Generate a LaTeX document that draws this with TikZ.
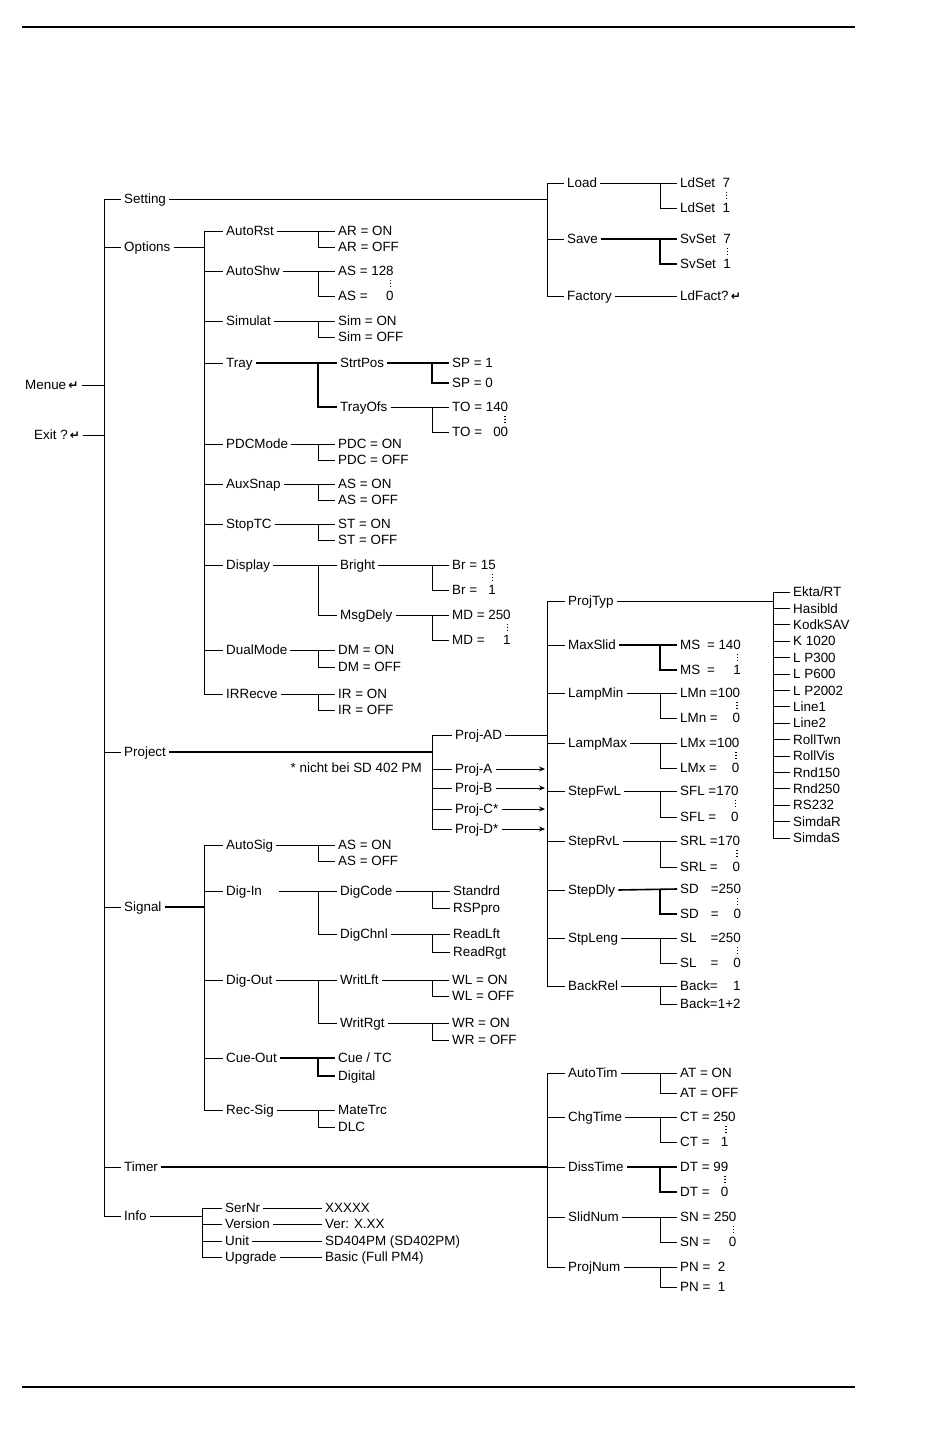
\documentclass[tikz,border=0pt]{standalone}
\usepackage{fontspec}
\setmainfont{Liberation Sans}
\newfontfamily\dejavu{DejaVu Sans}
\usetikzlibrary{arrows.meta}
\newcommand\ret{\,{\dejavu\bfseries\fontsize{12}{12}\selectfont ↵}}
\newcommand\phn[1]{\hphantom{#1}}
\tikzset{
 t/.style={anchor=west, inner sep=3pt, xshift=-3pt, text height=9.5pt, text depth=0pt, font=\fontsize{13.4}{15}\selectfont},
 ln/.style={line width=0.9pt, line cap=butt},
 thk/.style={line width=1.6pt},
 dotln/.style={line width=1.3pt, dash pattern=on 1.2pt off 1.8pt, shorten <=1pt, shorten >=2pt},
 rule/.style={line width=1.8pt}
}
% parent -> bus
\newcommand\tup[3][]{\draw[ln,#1] (#2.east) -- (#2.east -| #3);}
% bus -> each child
\newcommand\kids[3][]{\foreach \k in {#3}{\draw[ln,#1] (\k.west -| #2) -- (\k.west);}}
% vertical bus between first and last child
\newcommand\vbus[4][]{\draw[ln,#1] (#3.west -| #2) -- (#4.west -| #2);}
% parent with two children, first on same line
\newcommand\two[5][]{\draw[ln,#1] (#3.east) -- (#4.west); \draw[ln,#1] (#4.west -| #2) |- (#5.west);}
% dotted continuation between two values
\newcommand\dts[2]{\draw[dotln] ([xshift=-6.5pt]#1.south east) -- ([xshift=-6.5pt]#1.south east |- #2.north east);}
\begin{document}
\begin{tikzpicture}[x=1pt,y=-1pt]
\useasboundingbox (0,0) rectangle (950,1429);
\fill[white] (0,0) rectangle (950,1429);
\draw[rule] (22,27) -- (855,27);
\draw[rule] (22,1387) -- (855,1387);

\coordinate (b104) at (104,0);
\coordinate (b202) at (202,0);
\coordinate (b204) at (204,0);
\coordinate (b318) at (318,0);
\coordinate (b432) at (432,0);
\coordinate (b547) at (547,0);
\coordinate (b660) at (660,0);
\coordinate (b773) at (773,0);

% ---- root
\node[t] (menue) at (25,385) {Menue\ret};
\node[t] (exit) at (34,435) {Exit ?\ret};
\node[t] (setting) at (124,199) {Setting};
\node[t] (options) at (124,247) {Options};
\node[t] (project) at (124,752) {Project};
\node[t] (signal) at (124,907) {Signal};
\node[t] (timer) at (124,1167) {Timer};
\node[t] (info) at (124,1216) {Info};
\tup{menue}{b104}
\tup{exit}{b104}
\vbus{b104}{setting}{info}
\kids{b104}{setting,options,project,signal,timer,info}

% ---- Setting
\node[t] (load) at (567,183) {Load};
\node[t] (save) at (567,239) {Save};
\node[t] (factory) at (567,296) {Factory};
\tup{setting}{b547}
\vbus{b547}{load}{factory}
\kids{b547}{load,save,factory}
\node[t] (ld7) at (680,183) {LdSet\ \ 7};
\node[t] (ld1) at (680,208) {LdSet\ \ 1};
\two{b660}{load}{ld7}{ld1}
\dts{ld7}{ld1}
\node[t] (sv7) at (680,239) {SvSet\ \ 7};
\node[t] (sv1) at (680,264) {SvSet\ \ 1};
\two[thk]{b660}{save}{sv7}{sv1}
\dts{sv7}{sv1}
\node[t] (ldf) at (680,296) {LdFact?\ret};
\draw[ln] (factory.east) -- (ldf.west);

% ---- Options
\node[t] (autorst) at (226,231) {AutoRst};
\node[t] (autoshw) at (226,271) {AutoShw};
\node[t] (simulat) at (226,321) {Simulat};
\node[t] (tray) at (226,363) {Tray};
\node[t] (pdcmode) at (226,444) {PDCMode};
\node[t] (auxsnap) at (226,484) {AuxSnap};
\node[t] (stoptc) at (226,524) {StopTC};
\node[t] (display) at (226,565) {Display};
\node[t] (dualmode) at (226,650) {DualMode};
\node[t] (irrecve) at (226,694) {IRRecve};
\tup{options}{b204}
\vbus{b204}{autorst}{irrecve}
\kids{b204}{autorst,autoshw,simulat,tray,pdcmode,auxsnap,stoptc,display,dualmode,irrecve}

\node[t] (aron) at (338,231) {AR = ON};
\node[t] (aroff) at (338,247) {AR = OFF};
\two{b318}{autorst}{aron}{aroff}
\node[t] (as128) at (338,271) {AS = 128};
\node[t] (as0) at (338,296) {AS = \phn{12}0};
\two{b318}{autoshw}{as128}{as0}
\dts{as128}{as0}
\node[t] (simon) at (338,321) {Sim = ON};
\node[t] (simoff) at (338,337) {Sim = OFF};
\two{b318}{simulat}{simon}{simoff}
\node[t] (strtpos) at (340,363) {StrtPos};
\node[t] (trayofs) at (340,407) {TrayOfs};
\two[thk]{b318}{tray}{strtpos}{trayofs}
\node[t] (sp1) at (452,363) {SP = 1};
\node[t] (sp0) at (452,383) {SP = 0};
\two[thk]{b432}{strtpos}{sp1}{sp0}
\node[t] (to140) at (452,407) {TO = 140};
\node[t] (to00) at (452,432) {TO = \phn{1}00};
\two{b432}{trayofs}{to140}{to00}
\dts{to140}{to00}
\node[t] (pdcon) at (338,444) {PDC = ON};
\node[t] (pdcoff) at (338,460) {PDC = OFF};
\two{b318}{pdcmode}{pdcon}{pdcoff}
\node[t] (axon) at (338,484) {AS = ON};
\node[t] (axoff) at (338,500) {AS = OFF};
\two{b318}{auxsnap}{axon}{axoff}
\node[t] (ston) at (338,524) {ST = ON};
\node[t] (stoff) at (338,540) {ST = OFF};
\two{b318}{stoptc}{ston}{stoff}
\node[t] (bright) at (340,565) {Bright};
\node[t] (msgdely) at (340,615) {MsgDely};
\two{b318}{display}{bright}{msgdely}
\node[t] (br15) at (452,565) {Br = 15};
\node[t] (br1) at (452,590) {Br = \phn{1}1};
\two{b432}{bright}{br15}{br1}
\dts{br15}{br1}
\node[t] (md250) at (452,615) {MD = 250};
\node[t] (md1) at (452,640) {MD = \phn{25}1};
\two{b432}{msgdely}{md250}{md1}
\dts{md250}{md1}
\node[t] (dmon) at (338,650) {DM = ON};
\node[t] (dmoff) at (338,667) {DM = OFF};
\two{b318}{dualmode}{dmon}{dmoff}
\node[t] (iron) at (338,694) {IR = ON};
\node[t] (iroff) at (338,710) {IR = OFF};
\two{b318}{irrecve}{iron}{iroff}

% ---- Project
\node[t] (projad) at (455,735) {Proj-AD};
\node[t] (proja) at (455,769) {Proj-A};
\node[t] (projb) at (455,788) {Proj-B};
\node[t] (projc) at (455,809) {Proj-C*};
\node[t] (projd) at (455,829) {Proj-D*};
\node[t,anchor=east,xshift=0pt] (note) at (428,768) {* nicht bei SD 402 PM};
\tup[thk]{project}{b432}
\vbus{b432}{projad}{projd}
\kids{b432}{projad,proja,projb,projc,projd}
\tup{projad}{b547}
\foreach \k in {proja,projb,projc,projd}{\draw[ln,-{Stealth[length=6pt,width=5pt]}] (\k.east) -- ([xshift=-2pt]\k.east -| b547);}

\node[t] (projtyp) at (568,601) {ProjTyp};
\node[t] (maxslid) at (568,645) {MaxSlid};
\node[t] (lampmin) at (568,693) {LampMin};
\node[t] (lampmax) at (568,743) {LampMax};
\node[t] (stepfwl) at (568,791) {StepFwL};
\node[t] (steprvl) at (568,841) {StepRvL};
\node[t] (stepdly) at (568,890) {StepDly};
\node[t] (stpleng) at (568,938) {StpLeng};
\node[t] (backrel) at (568,986) {BackRel};
\vbus{b547}{projtyp}{backrel}
\kids{b547}{projtyp,maxslid,lampmin,lampmax,stepfwl,steprvl,stepdly,stpleng,backrel}

\foreach \s [count=\i] in {{Ekta/RT},Hasibld,KodkSAV,K 1020,L P300,L P600,L P2002,Line1,Line2,RollTwn,RollVis,Rnd150,Rnd250,RS232,SimdaR,SimdaS}
  {\node[t] (pt\i) at (793,{592+(\i-1)*16.4}) {\s};}
\tup{projtyp}{b773}
\vbus{b773}{pt1}{pt16}
\kids{b773}{pt1,pt2,pt3,pt4,pt5,pt6,pt7,pt8,pt9,pt10,pt11,pt12,pt13,pt14,pt15,pt16}

\node[t] (ms140) at (680,645) {MS\enspace = 140};
\node[t] (ms1) at (680,670) {MS\enspace = \phn{14}1};
\two[thk]{b660}{maxslid}{ms140}{ms1}
\dts{ms140}{ms1}
\node[t] (lmn100) at (680,693) {LMn =100};
\node[t] (lmn0) at (680,718) {LMn =\phn{10}0};
\two{b660}{lampmin}{lmn100}{lmn0}
\dts{lmn100}{lmn0}
\node[t] (lmx100) at (680,743) {LMx =100};
\node[t] (lmx0) at (680,768) {LMx =\phn{10}0};
\two{b660}{lampmax}{lmx100}{lmx0}
\dts{lmx100}{lmx0}
\node[t] (sfl170) at (680,791) {SFL =170};
\node[t] (sfl0) at (680,817) {SFL =\phn{17}0};
\two{b660}{stepfwl}{sfl170}{sfl0}
\dts{sfl170}{sfl0}
\node[t] (srl170) at (680,841) {SRL =170};
\node[t] (srl0) at (680,867) {SRL =\phn{17}0};
\two{b660}{steprvl}{srl170}{srl0}
\dts{srl170}{srl0}
\node[t] (sd250) at (680,889) {SD\hspace{0.9em}=250};
\node[t] (sd0) at (680,914) {SD\hspace{0.9em}=\phn{25}0};
\two[thk]{b660}{stepdly}{sd250}{sd0}
\dts{sd250}{sd0}
\node[t] (sl250) at (680,938) {SL\hspace{1.05em}=250};
\node[t] (sl0) at (680,963) {SL\hspace{1.05em}=\phn{25}0};
\two{b660}{stpleng}{sl250}{sl0}
\dts{sl250}{sl0}
\node[t] (back1) at (680,986) {Back=\phn{1+}1};
\node[t] (back12) at (680,1004) {Back=1+2};
\two{b660}{backrel}{back1}{back12}

% ---- Signal
\node[t] (autosig) at (226,845) {AutoSig};
\node[t] (digin) at (226,891) {Dig-In};
\node[t] (digout) at (226,980) {Dig-Out};
\node[t] (cueout) at (226,1058) {Cue-Out};
\node[t] (recsig) at (226,1110) {Rec-Sig};
\tup[thk]{signal}{b204}
\vbus{b204}{autosig}{recsig}
\kids{b204}{autosig,digin,digout,cueout,recsig}
\node[t] (asigon) at (338,845) {AS = ON};
\node[t] (asigoff) at (338,861) {AS = OFF};
\two{b318}{autosig}{asigon}{asigoff}
\node[t] (digcode) at (340,891) {DigCode};
\node[t] (digchnl) at (340,934) {DigChnl};
\draw[ln] ([xshift=14pt]digin.east) -- (digcode.west);
\draw[ln] (digcode.west -| b318) |- (digchnl.west);
\node[t] (standrd) at (453,891) {Standrd};
\node[t] (rsppro) at (453,908) {RSPpro};
\two{b432}{digcode}{standrd}{rsppro}
\node[t] (readlft) at (453,934) {ReadLft};
\node[t] (readrgt) at (453,952) {ReadRgt};
\two{b432}{digchnl}{readlft}{readrgt}
\node[t] (writlft) at (340,980) {WritLft};
\node[t] (writrgt) at (340,1023) {WritRgt};
\two{b318}{digout}{writlft}{writrgt}
\node[t] (wlon) at (452,980) {WL = ON};
\node[t] (wloff) at (452,996) {WL = OFF};
\two{b432}{writlft}{wlon}{wloff}
\node[t] (wron) at (452,1023) {WR = ON};
\node[t] (wroff) at (452,1040) {WR = OFF};
\two{b432}{writrgt}{wron}{wroff}
\node[t] (cuetc) at (338,1058) {Cue / TC};
\node[t] (digital) at (338,1076) {Digital};
\two[thk]{b318}{cueout}{cuetc}{digital}
\node[t] (matetrc) at (338,1110) {MateTrc};
\node[t] (dlc) at (338,1127) {DLC};
\two{b318}{recsig}{matetrc}{dlc}

% ---- Timer
\node[t] (autotim) at (568,1073) {AutoTim};
\node[t] (chgtime) at (568,1117) {ChgTime};
\node[t] (disstime) at (568,1167) {DissTime};
\node[t] (slidnum) at (568,1217) {SlidNum};
\node[t] (projnum) at (568,1267) {ProjNum};
\tup[thk]{timer}{b547}
\vbus{b547}{autotim}{projnum}
\kids{b547}{autotim,chgtime,disstime,slidnum,projnum}
\node[t] (aton) at (680,1073) {AT = ON};
\node[t] (atoff) at (680,1093) {AT = OFF};
\two{b660}{autotim}{aton}{atoff}
\node[t] (ct250) at (680,1117) {CT = 250};
\node[t] (ct1) at (680,1142) {CT = \phn{2}1};
\two{b660}{chgtime}{ct250}{ct1}
\draw[dotln] ([xshift=-13pt]ct250.south east) -- ([xshift=-13pt]ct250.south east |- ct1.north east);
\node[t] (dt99) at (680,1167) {DT = 99};
\node[t] (dt0) at (680,1192) {DT = \phn{9}0};
\two[thk]{b660}{disstime}{dt99}{dt0}
\dts{dt99}{dt0}
\node[t] (sn250) at (680,1217) {SN = 250};
\node[t] (sn0) at (680,1242) {SN = \phn{25}0};
\two{b660}{slidnum}{sn250}{sn0}
\dts{sn250}{sn0}
\node[t] (pn2) at (680,1267) {PN =\ \ 2};
\node[t] (pn1) at (680,1287) {PN =\ \ 1};
\two{b660}{projnum}{pn2}{pn1}

% ---- Info
\node[t] (sernr) at (225,1208) {SerNr};
\node[t] (version) at (225,1224) {Version};
\node[t] (unit) at (225,1241) {Unit};
\node[t] (upgrade) at (225,1257) {Upgrade};
\tup{info}{b202}
\vbus{b202}{sernr}{upgrade}
\kids{b202}{sernr,version,unit,upgrade}
\node[t] (xxxxx) at (325,1208) {XXXXX};
\node[t] (ver) at (325,1224) {Ver: X.XX};
\node[t] (sdunit) at (325,1241) {SD404PM (SD402PM)};
\node[t] (basic) at (325,1257) {Basic (Full PM4)};
\draw[ln] (sernr.east) -- (xxxxx.west);
\draw[ln] (version.east) -- (ver.west);
\draw[ln] (unit.east) -- (sdunit.west);
\draw[ln] (upgrade.east) -- (basic.west);
\end{tikzpicture}
\end{document}
